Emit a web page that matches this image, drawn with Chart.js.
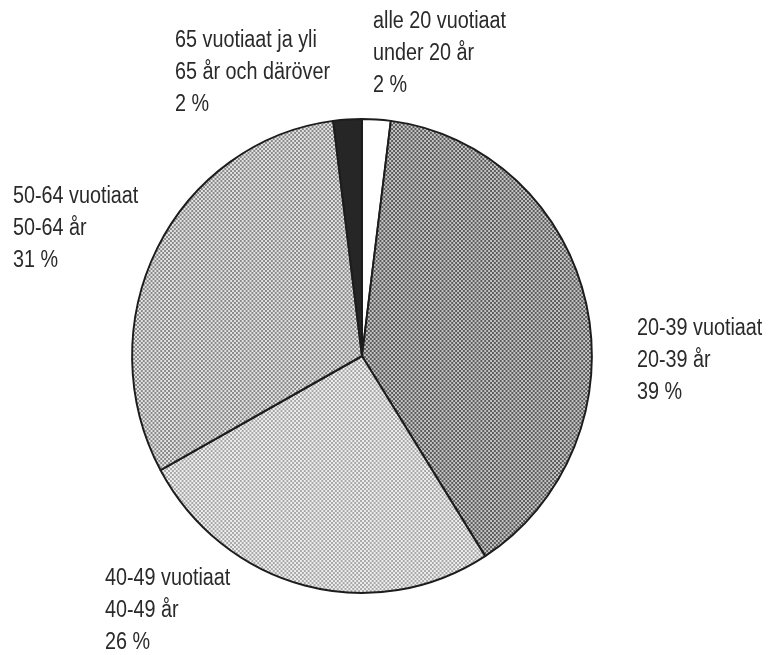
<!DOCTYPE html>
<html>
<head>
<meta charset="utf-8">
<script src="https://cdn.jsdelivr.net/npm/chart.js@4.4.1/dist/chart.umd.min.js"></script>
<style>
  html, body { margin: 0; padding: 0; background: #fff; }
  #wrap { width: 770px; height: 655px; }
</style>
</head>
<body>
<div id="wrap"><canvas id="pie" width="770" height="655"></canvas></div>
<script>
// age groups, starting at 12 o'clock and going clockwise
const ageFi = ['alle 20 vuotiaat', '20-39 vuotiaat', '40-49 vuotiaat', '50-64 vuotiaat', '65 vuotiaat ja yli'];
const ageSv = ['under 20 år', '20-39 år', '40-49 år', '50-64 år', '65 år och däröver'];
const shares = [2, 39, 26, 31, 2];

// label anchors (left x, first baseline) -- layout only
const labelPos = [[373, 28], [637, 335], [105, 585], [13, 203], [175, 47]];

// halftone-ish fills like the scanned original
function dots(bg, fg, size) {
  const c = document.createElement('canvas');
  c.width = 4; c.height = 4;
  const g = c.getContext('2d');
  g.fillStyle = bg;
  g.fillRect(0, 0, 4, 4);
  g.fillStyle = fg;
  g.fillRect(0, 0, size, size);
  g.fillRect(2, 2, size, size);
  return g.createPattern(c, 'repeat');
}

const probe = document.createElement('canvas').getContext('2d');
const fills = [
  '#ffffff',
  dots('#c4c4c4', '#5c5c5c', 2),
  dots('#eeeeee', '#a8a8a8', 2),
  dots('#e2e2e2', '#8a8a8a', 2),
  '#262626'
];

// the scanned pie is a touch narrower than tall
const squash = {
  id: 'squash',
  beforeDatasetsDraw(chart) {
    const a = chart.getDatasetMeta(0).data[0];
    const ctx = chart.ctx;
    ctx.save();
    ctx.translate(a.x, a.y);
    ctx.scale(0.97, 1);
    ctx.translate(-a.x, -a.y);
  },
  afterDatasetsDraw(chart) {
    chart.ctx.restore();
  }
};

const sliceLabels = {
  id: 'sliceLabels',
  afterDraw(chart) {
    const ctx = chart.ctx;
    ctx.save();
    ctx.fillStyle = '#2a2a2a';
    ctx.font = '23px "Liberation Sans", Arial, sans-serif';
    ctx.textBaseline = 'alphabetic';
    shares.forEach((v, i) => {
      const [x, y] = labelPos[i];
      const lines = [ageFi[i], ageSv[i], v + ' %'];
      lines.forEach((t, k) => {
        ctx.save();
        ctx.translate(x, y + k * 32);
        ctx.scale(0.86, 1);
        ctx.fillText(t, 0, 0);
        ctx.restore();
      });
    });
    ctx.restore();
  }
};

new Chart(document.getElementById('pie'), {
  type: 'pie',
  data: {
    labels: ageFi,
    datasets: [{
      data: shares,
      backgroundColor: fills,
      borderColor: '#1c1c1c',
      borderWidth: 2,
      hoverOffset: 0,
      offset: 0
    }]
  },
  options: {
    responsive: false,
    animation: false,
    layout: { padding: { left: 124, right: 170, top: 118, bottom: 61 } },
    plugins: {
      legend: { display: false },
      tooltip: { enabled: false }
    }
  },
  plugins: [squash, sliceLabels]
});
</script>
</body>
</html>
